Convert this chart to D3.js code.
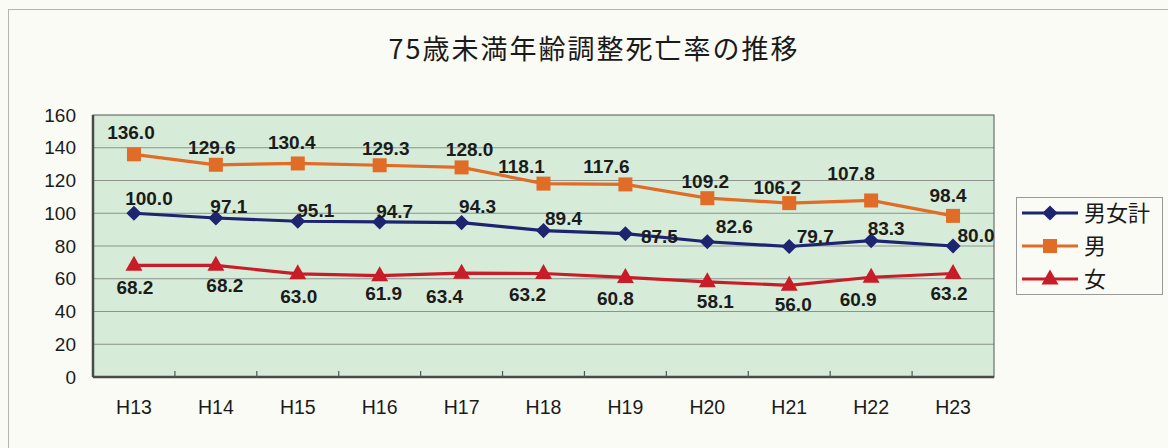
<!DOCTYPE html>
<html>
<head>
<meta charset="utf-8">
<script src="https://cdn.jsdelivr.net/npm/d3@7"></script>
<style>
  html, body { margin: 0; padding: 0; background: #fbfbf5; }
  svg { display: block; font-family: "Liberation Sans", Arial, sans-serif; }
  .title { font-family: "Noto Sans CJK JP", sans-serif; }
  .legendText { font-family: "Noto Sans CJK JP", sans-serif; }
</style>
</head>
<body>
<div id="chart"></div>
<script>
// data
var years = ["H13", "H14", "H15", "H16", "H17", "H18", "H19", "H20", "H21", "H22", "H23"];
var totalRate = [100.0, 97.1, 95.1, 94.7, 94.3, 89.4, 87.5, 82.6, 79.7, 83.3, 80.0];
var maleRate = [136.0, 129.6, 130.4, 129.3, 128.0, 118.1, 117.6, 109.2, 106.2, 107.8, 98.4];
var femaleRate = [68.2, 68.2, 63.0, 61.9, 63.4, 63.2, 60.8, 58.1, 56.0, 60.9, 63.2];
var seriesNames = ["男女計", "男", "女"];
var yTicks = [0, 20, 40, 60, 80, 100, 120, 140, 160];

// label nudges (px) as placed in the original
var labelNudge = {
  total: { dx: [15, 13, 18, 15, 16, 20, 34, 27, 26, 15, 23], dy: [-15, -12, -11, -11, -16, -12, 2, -16, -10, -12, -11] },
  male: { dx: [-3, -4, -6, 6, 8, -22, -19, -2, -12, -20, -5], dy: [-22, -18, -21, -17, -18, -17, -18, -17, -16, -27, -21] },
  female: { dx: [1, 9, 1, 4, -17, -16, -10, 8, 4, -13, -4], dy: [22, 20, 22, 18, 23, 21, 21, 19, 19, 22, 20] }
};

var svgWidth = 1168;
var svgHeight = 448;
var margin = { top: 115, left: 93 };
var width = 994 - 93;
var height = 377 - 115;

var svg = d3.select("#chart").append("svg")
  .attr("width", svgWidth)
  .attr("height", svgHeight);

// outer chart frame (runs off the right/bottom of the scan)
svg.append("rect")
  .attr("x", 8.5).attr("y", 9.5)
  .attr("width", 1200).attr("height", 500)
  .attr("fill", "none")
  .attr("stroke", "#b5b5ae")
  .attr("stroke-width", 1);

svg.append("text")
  .attr("class", "title")
  .attr("x", 594)
  .attr("y", 59)
  .attr("text-anchor", "middle")
  .attr("font-size", 27)
  .attr("letter-spacing", 2)
  .attr("fill", "#1a1a1a")
  .text("75歳未満年齢調整死亡率の推移");

var chartGroup = svg.append("g")
  .attr("transform", `translate(${margin.left}, ${margin.top})`);

var xScale = d3.scaleBand()
  .domain(years)
  .range([0, width]);

var yScale = d3.scaleLinear()
  .domain([0, 160])
  .range([height, 0]);

// plot background
chartGroup.append("rect")
  .attr("width", width)
  .attr("height", height)
  .attr("fill", "#d6ecd8");

// gridlines
chartGroup.append("g").selectAll("line")
  .data(yTicks.filter(d => d > 0 && d < 160))
  .enter()
  .append("line")
  .attr("x1", 0).attr("x2", width)
  .attr("y1", d => yScale(d)).attr("y2", d => yScale(d))
  .attr("stroke", "#8d928d")
  .attr("stroke-width", 1.2);

// plot border
chartGroup.append("rect")
  .attr("width", width)
  .attr("height", height)
  .attr("fill", "none")
  .attr("stroke", "#555");

chartGroup.append("line")
  .attr("x1", 0).attr("x2", width)
  .attr("y1", height).attr("y2", height)
  .attr("stroke", "#4a4a4a").attr("stroke-width", 2.5);
chartGroup.append("line")
  .attr("x1", 0).attr("x2", 0)
  .attr("y1", 0).attr("y2", height)
  .attr("stroke", "#4a4a4a").attr("stroke-width", 2.5);

// axes
var leftAxis = d3.axisLeft(yScale).tickValues(yTicks).tickSize(0).tickPadding(17);
var yAxisG = chartGroup.append("g").call(leftAxis);
yAxisG.select(".domain").remove();
yAxisG.selectAll("text")
  .attr("font-size", 19)
  .attr("fill", "#1a1a1a")
  .attr("font-family", "Liberation Sans, Arial, sans-serif");

var bottomAxis = d3.axisBottom(xScale).tickSize(0).tickPadding(23);
var xAxisG = chartGroup.append("g")
  .attr("transform", `translate(0, ${height})`)
  .call(bottomAxis);
xAxisG.select(".domain").remove();
xAxisG.selectAll("text")
  .attr("font-size", 19.5)
  .attr("fill", "#1a1a1a")
  .attr("font-family", "Liberation Sans, Arial, sans-serif");

// category boundary ticks, pointing up into the plot
chartGroup.append("g").selectAll("line")
  .data(years.slice(1))
  .enter()
  .append("line")
  .attr("x1", d => xScale(d)).attr("x2", d => xScale(d))
  .attr("y1", height).attr("y2", height - 6)
  .attr("stroke", "#555")
  .attr("stroke-width", 1.2);

var series = [
  { key: "total", name: seriesNames[0], values: totalRate, color: "#1d2470", shape: "diamond" },
  { key: "male", name: seriesNames[1], values: maleRate, color: "#e06c28", shape: "square" },
  { key: "female", name: seriesNames[2], values: femaleRate, color: "#c81d29", shape: "triangle" }
];

function markerPath(shape) {
  if (shape === "diamond") return d3.symbol().type(d3.symbolSquare).size(115)();
  if (shape === "square") return d3.symbol().type(d3.symbolSquare).size(196)();
  return "M0,-9.5L8.5,5.5L-8.5,5.5Z";
}

var line = d3.line()
  .x((d, i) => xScale(years[i]) + xScale.bandwidth() / 2)
  .y(d => yScale(d));

series.forEach(function(s) {
  var g = chartGroup.append("g");
  g.append("path")
    .datum(s.values)
    .attr("d", line)
    .attr("fill", "none")
    .attr("stroke", s.color)
    .attr("stroke-width", 3.2);

  g.selectAll(".marker")
    .data(s.values)
    .enter()
    .append("path")
    .attr("d", markerPath(s.shape))
    .attr("transform", (d, i) => `translate(${xScale(years[i]) + xScale.bandwidth() / 2}, ${yScale(d)})` + (s.shape === "diamond" ? " rotate(45)" : ""))
    .attr("fill", s.color);
});

// data labels
series.forEach(function(s) {
  chartGroup.append("g").selectAll("text")
    .data(s.values)
    .enter()
    .append("text")
    .attr("x", (d, i) => xScale(years[i]) + xScale.bandwidth() / 2 + labelNudge[s.key].dx[i])
    .attr("y", (d, i) => yScale(d) + labelNudge[s.key].dy[i])
    .attr("dy", "0.36em")
    .attr("text-anchor", "middle")
    .attr("font-size", 19)
    .attr("font-weight", "bold")
    .attr("fill", "#1b1b1b")
    .text(d => d.toFixed(1));
});

// legend
var legend = svg.append("g").attr("transform", "translate(1016, 197)");
legend.append("rect")
  .attr("x", 0.5).attr("y", 0.5)
  .attr("width", 146).attr("height", 97)
  .attr("fill", "#fbfbf5")
  .attr("stroke", "#9a9a9a");

var legendItems = legend.selectAll(".item")
  .data(series)
  .enter()
  .append("g")
  .attr("transform", (d, i) => `translate(0, ${16 + i * 33})`);

legendItems.append("line")
  .attr("x1", 6).attr("x2", 62)
  .attr("stroke", d => d.color)
  .attr("stroke-width", 3);

legendItems.append("path")
  .attr("d", d => markerPath(d.shape))
  .attr("transform", d => "translate(34, 0)" + (d.shape === "diamond" ? " rotate(45)" : ""))
  .attr("fill", d => d.color);

legendItems.append("text")
  .attr("class", "legendText")
  .attr("x", 68)
  .attr("dy", "0.36em")
  .attr("font-size", 22)
  .attr("fill", "#1a1a1a")
  .text(d => d.name);
</script>
</body>
</html>
